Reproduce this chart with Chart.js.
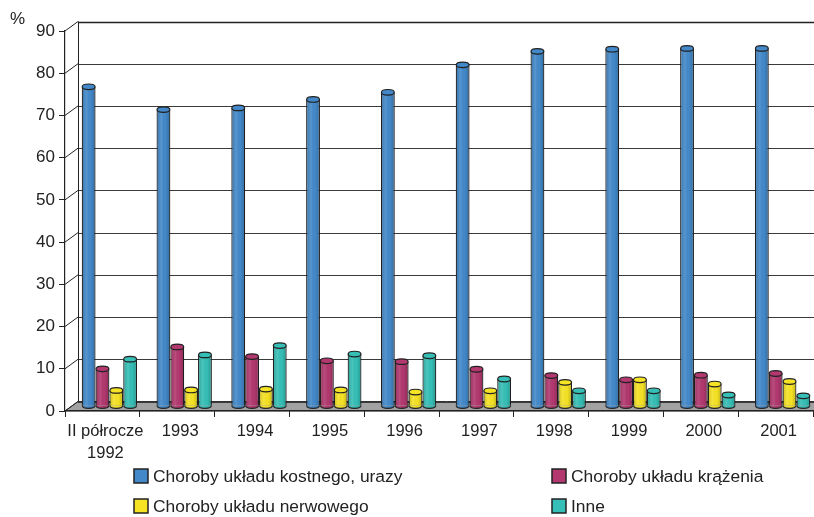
<!DOCTYPE html>
<html>
<head>
<meta charset="utf-8">
<script src="https://cdn.jsdelivr.net/npm/chart.js@4.4.1/dist/chart.umd.min.js"></script>
<style>
  html, body { margin: 0; padding: 0; background: #fff; }
  #wrap { width: 814px; height: 517px; position: relative; }
</style>
</head>
<body>
<div id="wrap"><canvas id="chart" width="814" height="517"></canvas></div>
<script>
const categories = [["II półrocze", "1992"], "1993", "1994", "1995", "1996", "1997", "1998", "1999", "2000", "2001"];
const kostny = [75.6, 70.2, 70.6, 72.6, 74.3, 80.8, 84.0, 84.5, 84.7, 84.7];
const krazenie = [8.8, 14.0, 11.7, 10.7, 10.5, 8.7, 7.2, 6.2, 7.3, 7.7];
const nerwowy = [3.7, 3.8, 4.0, 3.8, 3.3, 3.6, 5.6, 6.2, 5.2, 5.8];
const inne = [11.1, 12.1, 14.3, 12.3, 11.9, 6.4, 3.6, 3.6, 2.6, 2.4];
const yTicks = [0, 10, 20, 30, 40, 50, 60, 70, 80, 90];

const FONT = "'Liberation Sans', Arial, sans-serif";
const INK = "#222";
// 3D depth of the back wall and the bar row
const DEPTH_X = 13, DEPTH_Y = -9.5;
const BAR_DX = 7, BAR_DY = -5;

const frame3d = {
    id: "frame3d",
    beforeDraw(chart) {
        const ctx = chart.ctx;
        const y = chart.scales.y;
        const a = chart.chartArea;
        ctx.save();
        // floor
        ctx.beginPath();
        ctx.moveTo(a.left, a.bottom);
        ctx.lineTo(a.right, a.bottom);
        ctx.lineTo(a.right + DEPTH_X, a.bottom + DEPTH_Y);
        ctx.lineTo(a.left + DEPTH_X, a.bottom + DEPTH_Y);
        ctx.closePath();
        ctx.fillStyle = "#a2a2a2";
        ctx.fill();
        ctx.strokeStyle = "#333";
        ctx.lineWidth = 1;
        ctx.stroke();
        // back wall gridlines + side diagonals
        yTicks.forEach((v) => {
            const py = y.getPixelForValue(v);
            const by = Math.round(py + DEPTH_Y) + 0.5;
            ctx.beginPath();
            ctx.moveTo(a.left + DEPTH_X, by);
            ctx.lineTo(chart.width, by);
            ctx.lineWidth = v === 90 ? 1.6 : 1;
            ctx.strokeStyle = v === 90 ? INK : "#3a3a3a";
            ctx.stroke();
            ctx.beginPath();
            ctx.moveTo(a.left, py);
            ctx.lineTo(a.left + DEPTH_X, py + DEPTH_Y);
            ctx.lineWidth = 1;
            ctx.strokeStyle = INK;
            ctx.stroke();
        });
        const bx = a.left + DEPTH_X + 0.5;
        ctx.beginPath();
        ctx.moveTo(bx, y.getPixelForValue(90) + DEPTH_Y);
        ctx.lineTo(bx, y.getPixelForValue(0) + DEPTH_Y);
        ctx.strokeStyle = INK;
        ctx.stroke();
        ctx.restore();
    },
    beforeDatasetsDraw(chart) {
        chart.ctx.save();
        chart.ctx.translate(BAR_DX, BAR_DY);
    },
    afterDatasetsDraw(chart) {
        const ctx = chart.ctx;
        chart.data.datasets.forEach((ds, i) => {
            chart.getDatasetMeta(i).data.forEach((el) => {
                const { x, y, base, width } = el.getProps(["x", "y", "base", "width"], true);
                const rx = width / 2 - 0.5;
                const ry = 2.8;
                const shade = ctx.createLinearGradient(x - rx, 0, x + rx, 0);
                shade.addColorStop(0, "rgba(0,0,0,0.15)");
                shade.addColorStop(0.35, "rgba(255,255,255,0.1)");
                shade.addColorStop(0.65, "rgba(0,0,0,0)");
                shade.addColorStop(1, "rgba(0,0,0,0.2)");
                ctx.fillStyle = shade;
                ctx.fillRect(x - rx, y, rx * 2, base - y);
                // bottom curve
                ctx.beginPath();
                ctx.ellipse(x, base, rx, ry, 0, 0, Math.PI);
                ctx.closePath();
                ctx.fillStyle = ds.backgroundColor;
                ctx.fill();
                ctx.fillStyle = shade;
                ctx.fill();
                ctx.beginPath();
                ctx.ellipse(x, base, rx, ry, 0, 0, Math.PI);
                ctx.strokeStyle = INK;
                ctx.lineWidth = 1.2;
                ctx.stroke();
                // top cap
                ctx.beginPath();
                ctx.ellipse(x, y, rx, ry, 0, 0, Math.PI * 2);
                ctx.fillStyle = ds.backgroundColor;
                ctx.fill();
                ctx.stroke();
            });
        });
        ctx.restore();
    },
    afterDraw(chart) {
        const ctx = chart.ctx;
        ctx.save();
        ctx.fillStyle = INK;
        ctx.font = "17px " + FONT;
        ctx.textBaseline = "middle";
        ctx.fillText("%", 10, 19);
        // legend, two columns
        ctx.font = "17.4px " + FONT;
        const spots = [[134, 476], [552, 476], [134, 506], [552, 506]];
        chart.data.datasets.forEach((ds, k) => {
            const [lx, ly] = spots[k];
            ctx.fillStyle = ds.backgroundColor;
            ctx.fillRect(lx, ly - 7, 14, 14);
            ctx.strokeStyle = INK;
            ctx.lineWidth = 1.5;
            ctx.strokeRect(lx, ly - 7, 14, 14);
            ctx.fillStyle = INK;
            ctx.fillText(ds.label, lx + 19, ly + 1);
        });
        ctx.restore();
    }
};

const barStyle = {
    borderColor: INK,
    borderWidth: { top: 0, bottom: 0, left: 1.2, right: 1.2 },
    borderSkipped: false,
    categoryPercentage: 0.74,
    barPercentage: 1.0,
    clip: false
};

new Chart(document.getElementById("chart"), {
    type: "bar",
    data: {
        labels: categories,
        datasets: [
            { label: "Choroby układu kostnego, urazy", data: kostny, backgroundColor: "#4389ca", ...barStyle },
            { label: "Choroby układu krążenia", data: krazenie, backgroundColor: "#b2386f", ...barStyle },
            { label: "Choroby układu nerwowego", data: nerwowy, backgroundColor: "#f6e324", ...barStyle },
            { label: "Inne", data: inne, backgroundColor: "#35bfb6", ...barStyle }
        ]
    },
    options: {
        responsive: false,
        animation: false,
        layout: { padding: { top: 31, right: 1, left: 0, bottom: 0 } },
        plugins: {
            legend: { display: false },
            tooltip: { enabled: false }
        },
        scales: {
            x: {
                afterFit: (s) => { s.height = 106; },
                grid: { offset: true, drawOnChartArea: false, tickLength: 6, color: INK },
                border: { display: true, color: INK, width: 1.2 },
                ticks: {
                    color: INK,
                    font: { size: 16.5, family: FONT, lineHeight: 1.32 },
                    padding: 3.5,
                    labelOffset: 3,
                    maxRotation: 0,
                    autoSkip: false
                }
            },
            y: {
                min: 0,
                max: 90,
                afterFit: (s) => { s.width = 65; },
                afterBuildTicks: (s) => { s.ticks = yTicks.map((v) => ({ value: v })); },
                grid: { drawOnChartArea: false, tickLength: 6, color: INK },
                border: { display: true, color: INK, width: 1.2 },
                ticks: { color: INK, font: { size: 17, family: FONT }, padding: 4 }
            }
        }
    },
    plugins: [frame3d]
});
</script>
</body>
</html>
